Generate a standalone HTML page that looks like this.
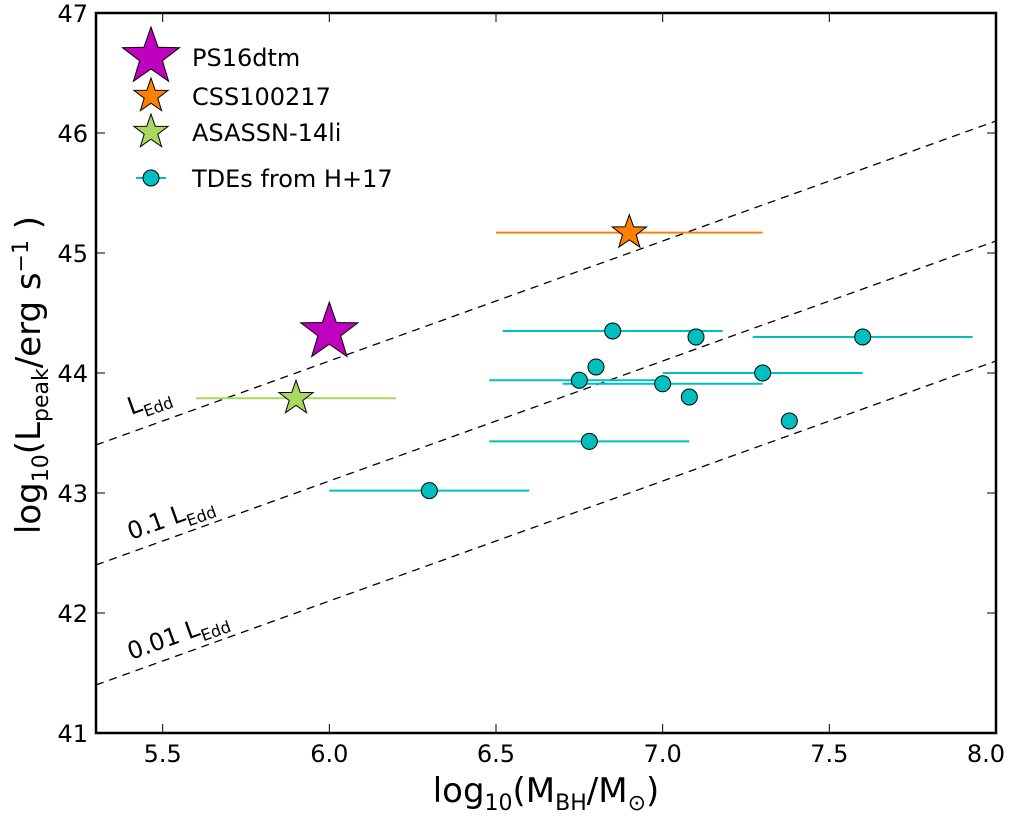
<!DOCTYPE html>
<html><head><meta charset="utf-8"><style>
body{margin:0;background:#fff}
svg text{font-family:"DejaVu Sans","Liberation Sans",sans-serif;fill:#000}
</style></head><body>
<svg id="chart" width="1020" height="815" viewBox="0 0 1020 815">
<g id="g"></g>
</svg>
<script>
const xMin=5.3,xMax=8.0,yMin=41,yMax=47;
const xTicks=[5.5,6.0,6.5,7.0,7.5,8.0];
const xTickLabels=["5.5","6.0","6.5","7.0","7.5","8.0"];
const yTicks=[41,42,43,44,45,46,47];
const tdeX=[6.3,6.78,6.85,6.80,6.75,7.0,7.08,7.1,7.3,7.38,7.6];
const tdeY=[43.02,43.43,44.35,44.05,43.94,43.91,43.8,44.3,44.0,43.6,44.3];
const tdeXlo=[6.0,6.48,6.52,null,6.48,6.7,null,null,7.0,null,7.27];
const tdeXhi=[6.6,7.08,7.18,null,7.0,7.3,null,null,7.6,null,7.93];
const starNames=["PS16dtm","CSS100217","ASASSN-14li"];
const starX=[6.0,6.9,5.9];
const starY=[44.34,45.17,43.79];
const starXlo=[null,6.5,5.6];
const starXhi=[null,7.3,6.2];
const eddFrac=[0,-1,-2];
const L=96,R=996,T=13,B=733;
const X=v=>L+(v-xMin)/(xMax-xMin)*(R-L);
const Y=v=>B-(v-yMin)/(yMax-yMin)*(B-T);
const NS="http://www.w3.org/2000/svg";
const g=document.getElementById('g');
function mk(t,a,p){const e=document.createElementNS(NS,t);for(const k in a)e.setAttribute(k,a[k]);(p||g).appendChild(e);return e;}
function star(cx,cy,r,fill){let pts=[];for(let i=0;i<10;i++){const rr=i%2?r*0.4:r;const a=-Math.PI/2+i*Math.PI/5;pts.push((cx+rr*Math.cos(a)).toFixed(1)+","+(cy+rr*Math.sin(a)).toFixed(1));}return mk('polygon',{points:pts.join(' '),fill:fill,stroke:'#000','stroke-width':1});}
const defs=mk('defs',{});const cp=mk('clipPath',{id:'cp'},defs);mk('rect',{x:L,y:T,width:R-L,height:B-T},cp);
eddFrac.forEach((f,i)=>{
 const l=mk('line',{x1:X(xMin),y1:Y(38.1+f+xMin),x2:X(xMax),y2:Y(38.1+f+xMax),stroke:'#000','stroke-width':1.3,'stroke-dasharray':'8,6','clip-path':'url(#cp)'});
 
 
});
const ang=-Math.atan((Y(44)-Y(45))/(X(6)-X(5)))*180/Math.PI;
[[131,415,"L"],[131,540,"0.1 L"],[131,660,"0.01 L"]].forEach((d,i)=>{
 const t=mk('text',{x:d[0],y:d[1],'font-size':24,transform:`rotate(${ang} ${d[0]} ${d[1]})`});
 
 
 t.innerHTML=d[2]+'<tspan font-size="16" dy="7">Edd</tspan>';
});
tdeX.forEach((v,i)=>{
 if(tdeXlo[i]!=null){const e=mk('line',{x1:X(tdeXlo[i]),x2:X(tdeXhi[i]),y1:Y(tdeY[i]),y2:Y(tdeY[i]),stroke:'#00bfbf','stroke-width':2});
 
 }
});
tdeX.forEach((v,i)=>{
 const c=mk('circle',{cx:X(v),cy:Y(tdeY[i]),r:8,fill:'#00bfbf',stroke:'#000','stroke-width':1});
 
 
});
const starCol=['#bf00bf','#ff8000','#a8d860'];
const starR=[30,18,18];
starX.forEach((v,i)=>{
 if(starXlo[i]!=null){const e=mk('line',{x1:X(starXlo[i]),x2:X(starXhi[i]),y1:Y(starY[i]),y2:Y(starY[i]),stroke:starCol[i],'stroke-width':2});
 
 }
 const s=star(X(v),Y(starY[i]),starR[i],starCol[i]);
 
 
});
const fr=mk('rect',{x:L,y:T,width:R-L,height:B-T,fill:'none',stroke:'#000','stroke-width':2.5});


xTicks.forEach((v,i)=>{
 mk('line',{x1:X(v),x2:X(v),y1:B,y2:B-9,stroke:'#000','stroke-width':1});
 mk('line',{x1:X(v),x2:X(v),y1:T,y2:T+9,stroke:'#000','stroke-width':1});
 const t=mk('text',{x:X(v)-(i==xTicks.length-1?10:0),y:B+29,'font-size':24,'text-anchor':'middle'});
 
 
 t.textContent=xTickLabels[i];
});
yTicks.forEach(v=>{
 mk('line',{x1:L,x2:L+9,y1:Y(v),y2:Y(v),stroke:'#000','stroke-width':1});
 mk('line',{x1:R,x2:R-9,y1:Y(v),y2:Y(v),stroke:'#000','stroke-width':1});
 const t=mk('text',{x:L-8,y:Y(v)+9,'font-size':24,'text-anchor':'end'});
 
 
 t.textContent=v;
});
const lg=mk('g',{});


const legY=[57,96,132,178];
[0,1,2].forEach(i=>{star(151,legY[i],starR[i],starCol[i]);
 const t=mk('text',{x:192,y:legY[i]+9,'font-size':24},lg);
 
 
 t.textContent=starNames[i];});
mk('line',{x1:136,x2:166,y1:178,y2:178,stroke:'#00bfbf','stroke-width':2},lg);
mk('circle',{cx:151,cy:178,r:8,fill:'#00bfbf',stroke:'#000'},lg);
const t4=mk('text',{x:192,y:187,'font-size':24},lg);


t4.textContent="TDEs from H+17";
const xt=mk('text',{x:546,y:802,'font-size':34,'text-anchor':'middle'});


xt.innerHTML='log<tspan font-size="22" dy="8">10</tspan><tspan dy="-8">(M</tspan><tspan font-size="22" dy="8">BH</tspan><tspan dy="-8">/M</tspan><tspan font-size="22" dy="8">⊙</tspan><tspan dy="-8">)</tspan>';
const yt=mk('text',{x:40,y:375,'font-size':34,'text-anchor':'middle',transform:'rotate(-90 40 375)'});


yt.innerHTML='log<tspan font-size="22" dy="8">10</tspan><tspan dy="-8">(L</tspan><tspan font-size="22" dy="8">peak</tspan><tspan dy="-8">/erg s</tspan><tspan font-size="22" dy="-12">−1</tspan><tspan dy="12"> )</tspan>';
</script>
</body></html>
